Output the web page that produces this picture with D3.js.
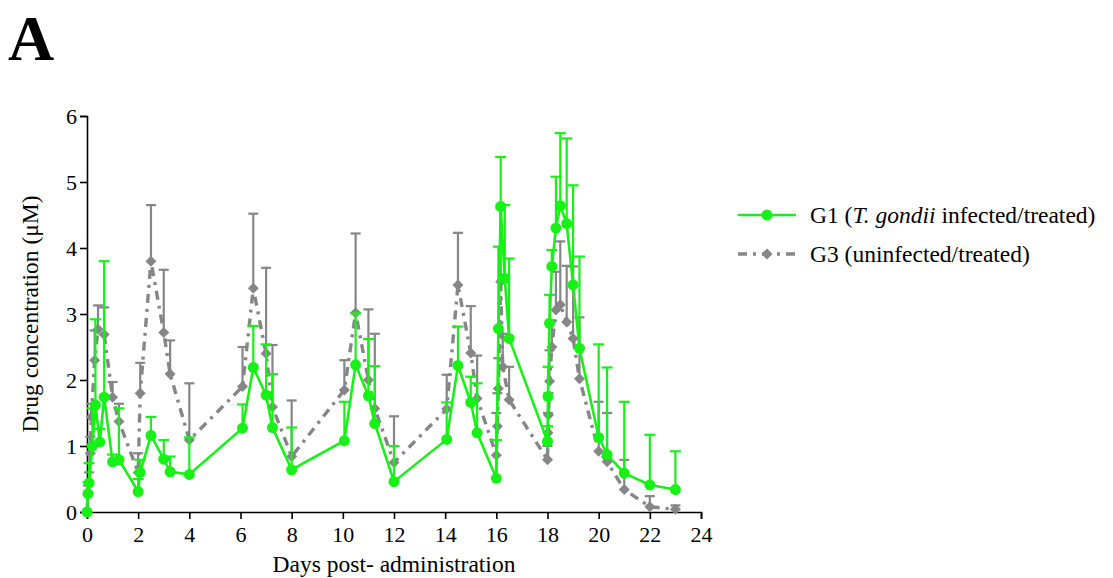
<!DOCTYPE html>
<html>
<head>
<meta charset="utf-8">
<script src="https://cdn.jsdelivr.net/npm/d3@7"></script>
<style>
  html, body { margin: 0; padding: 0; background: #fff; }
  svg { display: block; }
  text { font-family: "Liberation Serif", "Times New Roman", serif; }
</style>
</head>
<body>
<svg id="chart" width="1113" height="578"></svg>
<script>
// ---- Data ----
const xTicks = [0, 2, 4, 6, 8, 10, 12, 14, 16, 18, 20, 22, 24];
const yTicks = [0, 1, 2, 3, 4, 5, 6];

// G1 (T. gondii infected/treated)
const g1Days = [0, 0.04, 0.08, 0.21, 0.33, 0.5, 0.67, 1.0, 1.25, 2.0, 2.08, 2.5, 3.0, 3.25, 4.0,
  6.08, 6.5, 7.0, 7.25, 8.0, 10.06, 10.5, 11.0, 11.25, 12.0, 14.06, 14.5, 15.0, 15.25, 16.0,
  16.08, 16.17, 16.33, 16.5, 18.0, 18.02, 18.08, 18.17, 18.33, 18.5, 18.75, 19.0, 19.25,
  20.0, 20.33, 21.0, 22.0, 23.0];
const g1Mean = [0, 0.28, 0.44, 1.0, 1.62, 1.06, 1.74, 0.76, 0.79, 0.31, 0.6, 1.16, 0.8, 0.61, 0.57,
  1.27, 2.19, 1.77, 1.28, 0.64, 1.08, 2.23, 1.76, 1.34, 0.46, 1.1, 2.22, 1.66, 1.2, 0.51,
  2.78, 4.63, 3.54, 2.63, 1.07, 1.75, 2.86, 3.72, 4.3, 4.64, 4.37, 3.44, 2.48,
  1.13, 0.87, 0.59, 0.41, 0.34];
const g1Err = [0, 0.17, 0.3, 0.57, 1.3, 0.2, 2.06, 0.11, 0.78, 0.19, 0.19, 0.28, 0.29, 0.23, 0.56,
  0.36, 0.63, 0.77, 0.81, 0.64, 0.59, 0.78, 0.86, 0.87, 0.54, 0.56, 0.59, 0.39, 0.75, 0.58,
  1.24, 0.75, 1.11, 1.21, 0.23, 0.45, 0.43, 0.25, 0.78, 1.1, 1.29, 1.51, 1.39,
  1.41, 1.32, 1.08, 0.76, 0.58];

// G3 (uninfected/treated)
const g3Days = [0, 0.04, 0.08, 0.13, 0.17, 0.3, 0.43, 0.67, 1.0, 1.25, 2.0, 2.08, 2.5, 3.0, 3.25, 4.0,
  6.08, 6.5, 7.0, 7.25, 8.0, 10.06, 10.5, 11.0, 11.25, 12.0, 14.06, 14.5, 15.0, 15.25, 16.0,
  16.04, 16.08, 16.17, 16.25, 16.5, 18.0, 18.02, 18.04, 18.08, 18.17, 18.33, 18.5, 18.75, 19.0, 19.25,
  20.0, 20.33, 21.0, 22.0, 23.0];
const g3Mean = [0, 0.27, 0.45, 0.89, 1.44, 2.3, 2.77, 2.69, 1.74, 1.37, 0.6, 1.8, 3.8, 2.72, 2.09, 1.09,
  1.9, 3.39, 2.4, 1.59, 0.84, 1.85, 3.02, 2.0, 1.57, 0.75, 1.56, 3.44, 2.41, 1.72, 0.86,
  1.3, 1.87, 3.49, 2.2, 1.7, 0.79, 1.2, 1.47, 1.98, 2.5, 3.06, 3.14, 2.88, 2.63, 2.02,
  0.92, 0.76, 0.34, 0.08, 0.04];
const g3Err = [0, 0.13, 0.15, 0.25, 0.2, 0.45, 0.36, 0.41, 0.23, 0.27, 0.29, 0.46, 0.85, 0.95, 0.51, 0.86,
  0.6, 1.13, 1.3, 0.94, 0.85, 0.45, 1.2, 1.07, 1.13, 0.7, 0.52, 0.79, 0.71, 0.65, 0.64,
  0.5, 0.46, 1.11, 0.5, 0.5, 0.21, 0.3, 0.33, 0.47, 0.4, 0.58, 0.96, 0.85, 1.09, 0.93,
  0.75, 0.74, 0.45, 0.16, 0.06];

const G1_COLOR = "#18f018";
const G3_COLOR = "#868686";

// ---- Chart ----
const svg = d3.select("#chart");
const x = d3.scaleLinear().domain([0, 24]).range([87, 701]);
const y = d3.scaleLinear().domain([0, 6]).range([512, 116]);

const g1 = g1Days.map((d, i) => ({ x: d, y: g1Mean[i], e: g1Err[i] }));
const g3 = g3Days.map((d, i) => ({ x: d, y: g3Mean[i], e: g3Err[i] }));

// Panel letter
svg.append("text").attr("x", 8).attr("y", 60)
  .attr("font-size", 64).attr("font-weight", "bold").text("A");

// Axes
const xAxis = svg.append("g").attr("transform", `translate(0,${y(0)})`)
  .call(d3.axisBottom(x).tickValues(xTicks).tickSize(7).tickPadding(7).tickFormat(d3.format("d")));
const yAxis = svg.append("g").attr("transform", `translate(${x(0)},0)`)
  .call(d3.axisLeft(y).tickValues(yTicks).tickSize(7).tickPadding(3).tickFormat(d3.format("d")));
[xAxis, yAxis].forEach(a => {
  a.select(".domain").attr("stroke", "#000").attr("stroke-width", 1.6);
  a.selectAll(".tick line").attr("stroke", "#000").attr("stroke-width", 1.6);
  a.selectAll(".tick text").attr("font-size", 22).attr("fill", "#000")
    .attr("font-family", "'Liberation Serif', 'Times New Roman', serif");
});

// Axis titles
svg.append("text").attr("x", 394).attr("y", 572).attr("text-anchor", "middle")
  .attr("font-size", 23.5).text("Days post- administration");
svg.append("text").attr("transform", `translate(38,${314}) rotate(-90)`)
  .attr("text-anchor", "middle").attr("font-size", 23.5).text("Drug concentration (μM)");

// Helpers
const line = d3.line().x(d => x(d.x)).y(d => y(d.y));
const diamond = (s) => `M0,${-s}L${s},0L0,${s}L${-s},0Z`;

function errorBars(data, color, capHalf, width) {
  const g = svg.append("g").attr("stroke", color).attr("stroke-width", width).attr("fill", "none");
  g.selectAll("line.v").data(data.filter(d => d.e > 0)).join("line").attr("class", "v")
    .attr("x1", d => x(d.x)).attr("x2", d => x(d.x))
    .attr("y1", d => y(d.y)).attr("y2", d => y(d.y + d.e));
  g.selectAll("line.c").data(data.filter(d => d.e > 0)).join("line").attr("class", "c")
    .attr("x1", d => x(d.x) - capHalf).attr("x2", d => x(d.x) + capHalf)
    .attr("y1", d => y(d.y + d.e)).attr("y2", d => y(d.y + d.e));
}

// G3 (gray) first
errorBars(g3, G3_COLOR, 5, 2.2);
svg.append("path").datum(g3).attr("d", line).attr("fill", "none")
  .attr("stroke", G3_COLOR).attr("stroke-width", 3.4).attr("stroke-dasharray", "9,6,3,6");
svg.append("g").selectAll("path").data(g3).join("path")
  .attr("transform", d => `translate(${x(d.x)},${y(d.y)})`)
  .attr("d", diamond(5.5)).attr("fill", G3_COLOR);

// G1 (green)
errorBars(g1, G1_COLOR, 5.5, 2.2);
svg.append("path").datum(g1).attr("d", line).attr("fill", "none")
  .attr("stroke", G1_COLOR).attr("stroke-width", 2.6);
svg.append("g").selectAll("circle").data(g1).join("circle")
  .attr("cx", d => x(d.x)).attr("cy", d => y(d.y)).attr("r", 5.5).attr("fill", G1_COLOR);

// Legend
const lg = svg.append("g");
lg.append("line").attr("x1", 738).attr("x2", 796).attr("y1", 215).attr("y2", 215)
  .attr("stroke", G1_COLOR).attr("stroke-width", 2.6);
lg.append("circle").attr("cx", 767).attr("cy", 215).attr("r", 5.5).attr("fill", G1_COLOR);
const t1 = lg.append("text").attr("x", 810).attr("y", 223).attr("font-size", 23.5);
t1.append("tspan").text("G1 (");
t1.append("tspan").attr("font-style", "italic").text("T. gondii");
t1.append("tspan").text(" infected/treated)");

lg.append("line").attr("x1", 738).attr("x2", 796).attr("y1", 254).attr("y2", 254)
  .attr("stroke", G3_COLOR).attr("stroke-width", 3.4).attr("stroke-dasharray", "9,6,3,6");
lg.append("path").attr("transform", "translate(767,254)").attr("d", diamond(5.5)).attr("fill", G3_COLOR);
lg.append("text").attr("x", 810).attr("y", 262).attr("font-size", 23.5).text("G3 (uninfected/treated)");
</script>
</body>
</html>
